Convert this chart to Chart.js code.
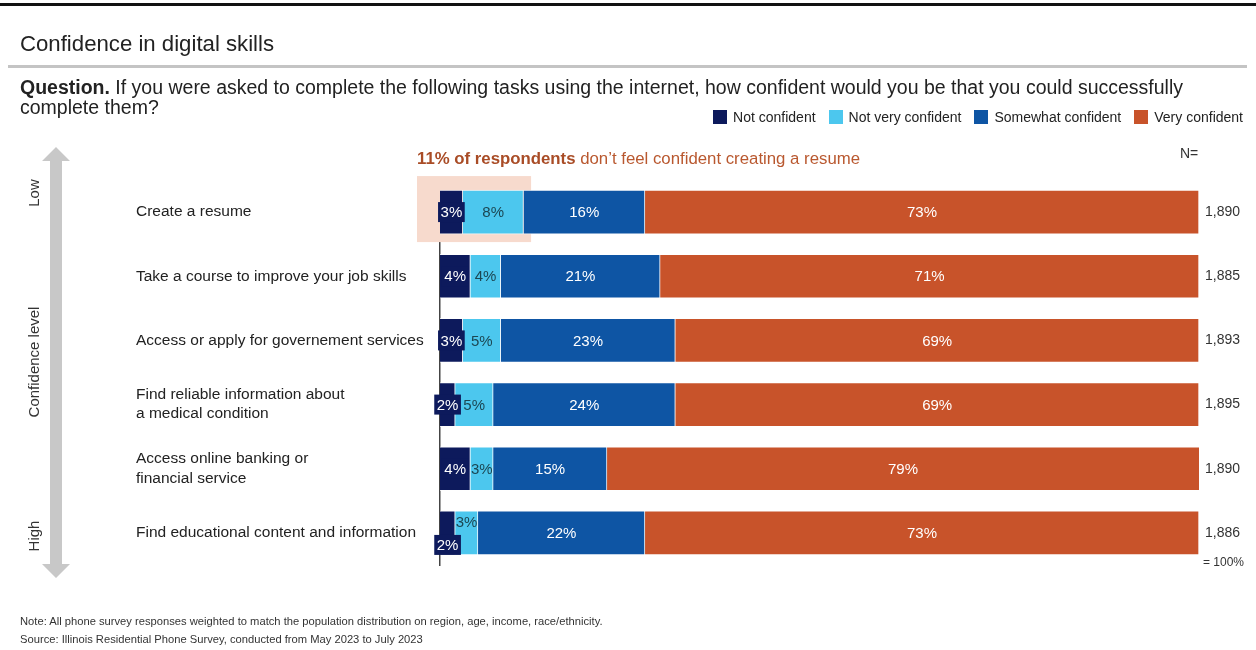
<!DOCTYPE html>
<html>
<head>
<meta charset="utf-8">
<script src="https://cdn.jsdelivr.net/npm/chart.js@4/dist/chart.umd.min.js"></script>
<style>
  body { margin: 0; background: #fff; font-family: "Liberation Sans", Arial, sans-serif; color: #222; }
  #wrap { position: relative; width: 1256px; height: 650px; overflow: hidden; }
  #myChart { position: absolute; left: 0; top: 0; }
  .topline { position: absolute; left: 0; top: 3px; width: 1256px; height: 3px; background: #111; }
  .title { position: absolute; left: 20px; top: 31px; font-size: 22.2px; color: #222; }
  .rule { position: absolute; left: 8px; top: 65px; width: 1239px; height: 3px; background: #c4c4c4; }
  .question { position: absolute; left: 20px; top: 77px; font-size: 19.5px; line-height: 20px; color: #222; white-space: nowrap; }
  .legend { position: absolute; right: 13px; top: 109px; display: flex; font-size: 14px; color: #222; }
  .legend span.item { display: flex; align-items: center; margin-left: 13px; }
  .legend i { display: inline-block; width: 14px; height: 14px; margin-right: 6px; }
  .foot { position: absolute; left: 20px; font-size: 11.2px; color: #333; }
</style>
</head>
<body>
<div id="wrap">
  <canvas id="myChart" width="1256" height="650"></canvas>
  <div class="topline"></div>
  <div class="title">Confidence in digital skills</div>
  <div class="rule"></div>
  <div class="question"><b>Question.</b> If you were asked to complete the following tasks using the internet, how confident would you be that you could successfully<br>complete them?</div>
  <div class="legend" id="legend"></div>
  <div class="foot" style="top:615px">Note: All phone survey responses weighted to match the population distribution on region, age, income, race/ethnicity.</div>
  <div class="foot" style="top:633px">Source: Illinois Residential Phone Survey, conducted from May 2023 to July 2023</div>
</div>
<script>
// survey answers, in percent
var tasks = [
    "Create a resume",
    "Take a course to improve your job skills",
    "Access or apply for governement services",
    ["Find reliable information about", "a medical condition"],
    ["Access online banking or", "financial service"],
    "Find educational content and information"
];
var seriesNames = ["Not confident", "Not very confident", "Somewhat confident", "Very confident"];
var notConfident = [3, 4, 3, 2, 4, 2];
var notVeryConfident = [8, 4, 5, 5, 3, 3];
var somewhatConfident = [16, 21, 23, 24, 15, 22];
var veryConfident = [73, 71, 69, 69, 79, 73];
var sampleSizes = ["1,890", "1,885", "1,893", "1,895", "1,890", "1,886"];

var colors = ["#0d1a5c", "#4cc7ee", "#0e55a4", "#c8532a"];
var labelColors = ["#ffffff", "#1c4753", "#ffffff", "#ffffff"];
var FONT = '"Liberation Sans", Arial, sans-serif';

// a couple of labels are nudged off the bar so they don't overlap
var labelShift = { "0-5": 12, "1-5": -11 };

// legend
var legend = document.getElementById('legend');
seriesNames.forEach(function(name, i) {
    var s = document.createElement('span');
    s.className = 'item';
    s.innerHTML = '<i style="background:' + colors[i] + '"></i>' + name;
    legend.appendChild(s);
});

var ctx = document.getElementById('myChart');

// highlight box + annotation behind the first row
var highlight = {
    id: 'highlight',
    beforeDatasetsDraw: function(chart) {
        var c = chart.ctx, x = chart.scales.x, y = chart.scales.y;
        var cy = y.getPixelForValue(0);
        var x0 = x.getPixelForValue(0) - 23;
        var x1 = x.getPixelForValue(notConfident[0] + notVeryConfident[0] + 1);
        c.save();
        c.fillStyle = '#f7dacd';
        c.fillRect(x0, cy - 36, x1 - x0, 66);
        c.textBaseline = 'middle';
        c.font = 'bold 16.8px ' + FONT;
        c.fillStyle = '#a94c26';
        var first = (notConfident[0] + notVeryConfident[0]) + '% of respondents';
        c.fillText(first, x0, cy - 53);
        var w = c.measureText(first).width;
        c.font = '16.8px ' + FONT;
        c.fillStyle = '#b9582f';
        c.fillText(" don\u2019t feel confident creating a resume", x0 + w, cy - 53);
        c.restore();
    }
};

// value labels, N column and the confidence arrow
var extras = {
    id: 'extras',
    afterDatasetsDraw: function(chart) {
        var c = chart.ctx, area = chart.chartArea, y = chart.scales.y;
        c.save();
        c.font = '15px ' + FONT;
        c.textAlign = 'center';
        c.textBaseline = 'middle';
        chart.data.datasets.forEach(function(ds, di) {
            chart.getDatasetMeta(di).data.forEach(function(bar, i) {
                var cx = (bar.base + Math.min(bar.x, area.right)) / 2;
                var cy = bar.y + (labelShift[di + '-' + i] || 0);
                var txt = ds.data[i] + '%';
                if (di === 0) {
                    var w = c.measureText(txt).width + 5;
                    c.fillStyle = colors[0];
                    c.fillRect(cx - w / 2, cy - 10, w, 20);
                }
                c.fillStyle = labelColors[di];
                c.fillText(txt, cx, cy + 1);
            });
        });

        // sample sizes
        c.fillStyle = '#333';
        c.textAlign = 'left';
        c.font = '14px ' + FONT;
        sampleSizes.forEach(function(n, i) {
            c.fillText(n, area.right + 6, y.getPixelForValue(i));
        });
        c.fillText('N=', area.right - 19, 154);
        c.font = '12px ' + FONT;
        c.fillText('= 100%', area.right + 4, area.bottom - 2);

        // double headed arrow on the left
        var ax = 56, top = 147, bot = 578;
        c.fillStyle = '#c8c8c8';
        c.fillRect(ax - 6, top + 12, 12, bot - top - 24);
        c.beginPath();
        c.moveTo(ax, top); c.lineTo(ax + 14, top + 14); c.lineTo(ax - 14, top + 14); c.closePath();
        c.moveTo(ax, bot); c.lineTo(ax + 14, bot - 14); c.lineTo(ax - 14, bot - 14); c.closePath();
        c.fill();

        c.fillStyle = '#333';
        c.font = '15px ' + FONT;
        c.textAlign = 'center';
        [['Low', 193], ['Confidence level', 362], ['High', 536]].forEach(function(t) {
            c.save();
            c.translate(35, t[1]);
            c.rotate(-Math.PI / 2);
            c.fillText(t[0], 0, 0);
            c.restore();
        });
        c.restore();
    }
};

var graphique = new Chart(ctx.getContext('2d'), {
    type: 'bar',
    data: {
        labels: tasks,
        datasets: [notConfident, notVeryConfident, somewhatConfident, veryConfident].map(function(d, i) {
            return {
                label: seriesNames[i],
                data: d,
                backgroundColor: colors[i],
                borderColor: 'rgba(255,255,255,0.7)',
                borderWidth: 1,
                barThickness: 44
            };
        })
    },
    options: {
        indexAxis: 'y',
        responsive: false,
        animation: false,
        layout: { padding: { left: 136, right: 57, top: 180, bottom: 85 } },
        plugins: { legend: { display: false }, tooltip: { enabled: false } },
        scales: {
            x: { stacked: true, min: 0, max: 100, display: false },
            y: {
                stacked: true,
                grid: { display: false, drawTicks: false },
                border: { display: true, color: '#444', width: 1.5 },
                ticks: {
                    crossAlign: 'far',
                    color: '#222',
                    font: { family: FONT, size: 15.5, lineHeight: 1.23 }
                },
                afterFit: function(scale) { scale.width = 304; }
            }
        }
    },
    plugins: [highlight, extras]
});
</script>
</body>
</html>
